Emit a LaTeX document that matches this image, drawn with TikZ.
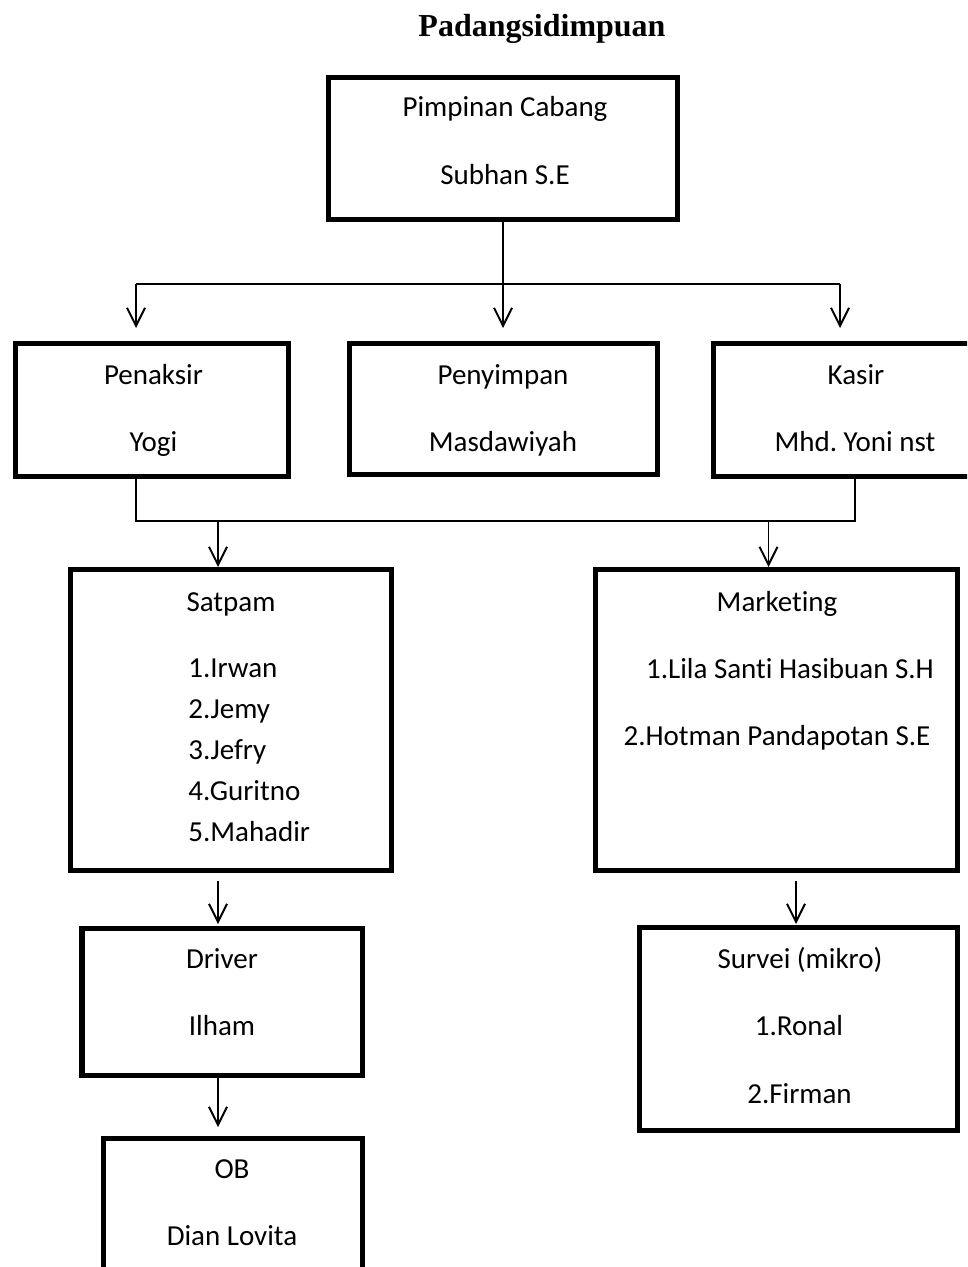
\documentclass[tikz,border=0pt]{standalone}
\usepackage{fontspec}
\setmainfont{Carlito}[Ligatures=NoCommon]
\newfontfamily\titlefont{Liberation Serif}
\frenchspacing
\usetikzlibrary{arrows.meta,fit}
\tikzset{
  boxln/.style={draw, line width=2.85pt, inner sep=0pt, outer sep=0pt},
  connln/.style={line width=1.1pt},
  arrln/.style={-{Straight Barb[length=3.6mm,width=3.6mm]}, line width=1.1pt},
  lbl/.style={anchor=base, inner sep=0pt, font=\fontsize{16.5}{20}\selectfont},
  titlelbl/.style={anchor=base, inner sep=0pt, font=\titlefont\bfseries\fontsize{18.2}{22}\selectfont},
}
\newcommand{\orgbox}[3]{%
  \node[boxln, fit={#2 #3}] (#1) {};
}

\begin{document}
\begin{tikzpicture}[x=0.02cm, y=-0.02cm]
    \useasboundingbox (0,0) rectangle (967,1267);
    \clip (0,0) rectangle (967,1267);
    \node[titlelbl] (title) at (542,37) {Padangsidimpuan};
    % boxes
    \orgbox{pimpinan}{(328.5,77.5)}{(677.5,219.5)}
    \orgbox{penaksir}{(15.5,343.5)}{(288,476.5)}
    \orgbox{penyimpan}{(349,343.5)}{(657,474.5)}
    \orgbox{kasir}{(713.5,343.5)}{(990,476)}
    \orgbox{satpam}{(70.5,569.5)}{(391,870.5)}
    \orgbox{marketing}{(595.5,569.5)}{(957.5,870.5)}
    \orgbox{driver}{(82,928.5)}{(362,1075.5)}
    \orgbox{survei}{(639.5,927.5)}{(957.5,1130.5)}
    \orgbox{ob}{(103.5,1138.5)}{(362,1300)}
    % texts
    \node[lbl] (pimJab) at (505,117) {Pimpinan Cabang};
    \node[lbl] (pimNama) at (505,185) {Subhan S.E};
    \node[lbl] (penJab) at (153.5,384) {Penaksir};
    \node[lbl] (penNama) at (153.5,451) {Yogi};
    \node[lbl] (simJab) at (503,384) {Penyimpan};
    \node[lbl] (simNama) at (503,451) {Masdawiyah};
    \node[lbl] (kasJab) at (856,384) {Kasir};
    \node[lbl] (kasNama) at (855,451) {Mhd. Yoni nst};
    \node[lbl] (satJab) at (231,611) {Satpam};
    \node[lbl, anchor=base west] (sat1) at (188,677) {1.Irwan};
    \node[lbl, anchor=base west] (sat2) at (188,718) {2.Jemy};
    \node[lbl, anchor=base west] (sat3) at (188,759) {3.Jefry};
    \node[lbl, anchor=base west] (sat4) at (188,800) {4.Guritno};
    \node[lbl, anchor=base west] (sat5) at (188,841) {5.Mahadir};
    \node[lbl] (marJab) at (777,611) {Marketing};
    \node[lbl] (mar1) at (790,678) {1.Lila Santi Hasibuan S.H};
    \node[lbl] (mar2) at (777,745) {2.Hotman Pandapotan S.E};
    \node[lbl] (drvJab) at (222,968) {Driver};
    \node[lbl] (drvNama) at (222,1035) {Ilham};
    \node[lbl] (surJab) at (800,968) {Survei (mikro)};
    \node[lbl] (sur1) at (799,1035) {1.Ronal};
    \node[lbl] (sur2) at (799.5,1103) {2.Firman};
    \node[lbl] (obJab) at (232,1178) {OB};
    \node[lbl] (obNama) at (232,1245) {Dian Lovita};
    % top branch
    \coordinate (busMid) at (503,284);
    \coordinate (busL) at (136,284);
    \coordinate (busR) at (840,284);
    \coordinate (tipL) at (136,328);
    \coordinate (tipMid) at (503,328);
    \coordinate (tipR) at (840,328);
    \draw[connln] (pimpinan.south -| busMid) -- (busMid);
    \draw[connln] (busL) -- (busR);
    \draw[arrln] (busL) -- (tipL);
    \draw[arrln] (busMid) -- (tipMid);
    \draw[arrln] (busR) -- (tipR);
    % second branch
    \coordinate (joinL) at (136,521);
    \coordinate (joinR) at (855,521);
    \coordinate (dropA) at (218,521);
    \coordinate (dropB) at (768.5,521);
    \draw[connln] (penaksir.south -| joinL) -- (joinL) -- (joinR) -- (kasir.south -| joinR);
    \draw[arrln] (dropA) -- (218,567) coordinate (tipA);
    \draw[arrln] (dropB) -- (768.5,567) coordinate (tipB);
    % lower arrows
    \coordinate (satOut) at (218,881);
    \coordinate (drvIn) at (218,924);
    \coordinate (obIn) at (218,1127);
    \coordinate (marOut) at (796,881);
    \coordinate (surIn) at (796,924);
    \draw[arrln] (satOut) -- (drvIn);
    \draw[arrln] (driver.south -| obIn) -- (obIn);
    \draw[arrln] (marOut) -- (surIn);
  \end{tikzpicture}
\end{document}
